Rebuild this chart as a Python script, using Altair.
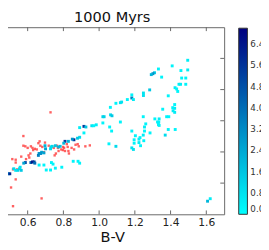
import altair as alt
import pandas as pd

# ---- data ----
# clustered members (B-V, magnitude-like y in tick units, density value)
bv = [1.496, 1.496, 1.409, 1.332, 1.310, 1.301, 1.292, 1.458, 1.485, 1.462,
      1.485, 1.456, 1.447, 1.425, 1.434, 1.440, 1.283, 1.248, 1.248, 1.183,
      1.183, 1.192, 1.387, 1.423, 1.423, 1.423, 1.414, 1.126, 1.119, 1.094,
      1.356, 1.336, 1.327, 1.390, 1.247, 1.021, 1.028, 1.064, 1.072, 1.021,
      1.119, 0.891, 0.915, 0.926, 0.959, 0.984, 1.059, 1.070, 0.915, 1.183,
      1.332, 1.261, 1.254, 1.285, 1.387, 1.370, 1.247, 1.223, 1.223, 1.196,
      1.183, 1.192, 1.055, 1.094, 0.891, 0.879, 0.859, 0.850, 0.828, 0.809,
      0.802, 0.782, 0.773, 0.737, 0.731, 0.755, 0.728, 0.697, 0.700, 0.678,
      0.664, 0.660, 0.691, 0.673, 0.618, 0.627, 0.636, 0.640, 0.587, 0.578,
      0.554, 0.564, 0.545, 0.558, 0.522, 0.533, 0.482, 0.491, 0.463, 0.454,
      0.500, 0.454, 0.463, 0.460, 0.733, 0.742, 0.664, 0.691, 0.704, 0.728,
      0.755, 0.791, 0.855, 0.882, 0.891, 1.607, 1.622, 1.350, 1.158, 1.254,
      1.196, 1.232, 1.378, 1.412, 1.334, 1.336, 1.312, 1.426, 0.970, 1.063,
      1.229, 1.250, 1.203]
yv = [4.94, 4.63, 4.76, 4.66, 4.54, 4.51, 4.48, 4.61, 4.37, 4.37,
      4.17, 4.17, 4.17, 4.06, 4.02, 3.94, 3.99, 3.89, 3.81, 3.83,
      3.73, 3.68, 3.80, 3.52, 3.40, 3.27, 3.32, 3.60, 3.58, 3.56,
      3.37, 3.06, 2.96, 3.13, 3.13, 3.13, 3.13, 3.19, 3.16, 2.93,
      2.96, 2.78, 2.82, 2.80, 2.84, 2.87, 2.80, 2.67, 2.61, 2.67,
      2.88, 2.90, 2.80, 2.61, 2.72, 2.54, 2.54, 2.41, 2.30, 2.39,
      2.13, 2.08, 2.26, 2.18, 2.47, 2.44, 2.39, 2.41, 2.34, 2.34,
      2.28, 2.18, 2.16, 2.18, 2.16, 2.20, 2.10, 2.20, 2.10, 1.99,
      1.95, 1.89, 1.97, 1.95, 1.66, 1.68, 1.68, 1.64, 1.66, 1.64,
      1.46, 1.41, 1.41, 1.51, 1.46, 1.41, 1.35, 1.30, 1.33, 1.30,
      1.30, 1.40, 1.06, 1.20, 1.66, 1.61, 1.58, 1.58, 1.42, 1.42,
      1.48, 1.51, 1.70, 1.70, 1.64, 0.42, 0.50, 4.40, 3.68, 2.67,
      2.28, 2.20, 3.13, 3.42, 2.96, 2.85, 3.06, 2.72, 2.84, 3.43,
      2.46, 2.36, 2.52]
dens = [0.5, 0.5, 0.3, 0.3, 1.5, 3.0, 2.0, 0.3, 0.3, 0.3,
        0.3, 0.5, 0.5, 0.5, 0.3, 0.3, 1.5, 0.8, 0.8, 0.3,
        3.5, 0.5, 0.3, 0.3, 0.5, 0.5, 0.5, 0.8, 0.8, 0.3,
        0.3, 0.5, 0.3, 0.3, 0.3, 1.2, 1.2, 1.0, 1.5, 0.3,
        0.3, 0.5, 5.5, 1.5, 0.8, 0.5, 0.3, 0.3, 0.3, 0.3,
        0.3, 0.3, 0.5, 0.3, 0.3, 1.0, 0.5, 0.5, 0.5, 0.3,
        0.8, 0.8, 0.3, 1.0, 1.0, 1.5, 6.0, 3.0, 2.0, 5.5,
        2.0, 1.5, 2.0, 1.0, 1.0, 1.5, 1.0, 2.0, 2.5, 2.5,
        3.0, 3.5, 2.5, 3.0, 4.5, 6.5, 5.5, 4.0, 5.0, 2.5,
        1.0, 1.5, 1.2, 0.8, 1.0, 0.8, 3.0, 2.5, 2.0, 1.0,
        6.0, 0.5, 0.3, 0.5, 0.3, 0.3, 0.3, 0.3, 0.3, 0.3,
        0.3, 0.3, 0.3, 0.3, 0.3, 2.0, 0.5, 0.3, 0.3, 0.3,
        0.3, 0.3, 0.3, 0.3, 0.3, 0.3, 0.3, 0.3, 0.3, 0.3,
        0.3, 0.3, 0.3]

# field stars (red)
red_bv = [0.728, 0.576, 0.576, 0.587, 0.600, 0.618, 0.627, 0.667, 0.671, 0.682,
          0.631, 0.640, 0.651, 0.615, 0.605, 0.564, 0.591, 0.514, 0.533, 0.533,
          0.518, 0.540, 0.533, 0.507, 0.474, 0.460, 0.452, 0.518, 0.678, 0.718,
          0.737, 0.746, 0.764, 0.769, 0.773, 0.788, 0.797, 0.804, 0.809, 0.819,
          0.824, 0.828, 0.831, 0.846, 0.860, 0.868, 0.886, 0.923, 0.948, 0.751,
          0.758, 0.691, 0.609, 0.482, 0.474, 0.697, 0.660, 0.798, 0.880]
red_y = [3.27, 2.51, 2.20, 2.18, 2.13, 2.18, 2.13, 2.34, 2.20, 2.16,
         2.06, 2.10, 2.08, 1.95, 1.89, 1.85, 1.77, 1.77, 1.75, 1.66,
         1.44, 1.44, 1.12, 0.86, 0.94, 0.40, 0.24, 0.26, 0.51, 2.20,
         2.18, 2.13, 2.20, 2.13, 2.03, 2.08, 2.06, 2.13, 2.03, 2.25,
         2.16, 2.03, 1.95, 2.13, 2.08, 2.23, 2.18, 2.18, 2.21, 1.89,
         1.95, 1.99, 1.82, 1.46, 1.51, 2.30, 2.28, 2.16, 2.25]

x_ticks = [0.6, 0.8, 1.0, 1.2, 1.4, 1.6]
y_ticks = [1, 2, 3, 4, 5]
cbar_ticks = [0.0, 0.8, 1.6, 2.4, 3.2, 4.0, 4.8, 5.6, 6.4]
x_domain = [0.4465, 1.7]
y_domain = [0, 6]

W, H = 231, 193
FONT = "DejaVu Sans"

members = pd.DataFrame({"bv": bv, "y": yv, "c": dens})
field = pd.DataFrame({"bv": red_bv, "y": red_y})
xt = pd.DataFrame({"t": x_ticks})
yt = pd.DataFrame({"t": y_ticks})

xscale = alt.Scale(domain=x_domain, nice=False, zero=False)
yscale = alt.Scale(domain=y_domain, nice=False, zero=False)

xaxis = alt.Axis(values=x_ticks, format=".1f", labelFontSize=11, labelFont=FONT,
                 labelColor="#222", ticks=False, domain=False, grid=False,
                 title="B-V", titleFontSize=15, titleFont=FONT,
                 titleFontWeight="normal", titleColor="#111",
                 labelPadding=3, titlePadding=2)

red = alt.Chart(field).mark_square(size=6, color="#ff3a3a", opacity=0.8).encode(
    x=alt.X("bv:Q", scale=xscale, axis=xaxis),
    y=alt.Y("y:Q", scale=yscale, axis=None),
)

pts = alt.Chart(members).mark_square(size=9, opacity=1).encode(
    x=alt.X("bv:Q", scale=xscale),
    y=alt.Y("y:Q", scale=yscale),
    color=alt.Color("c:Q",
                    scale=alt.Scale(domain=[0, 7], range=["#00ffff", "#000080"],
                                    interpolate="rgb"),
                    legend=alt.Legend(title=None, orient="none", legendX=246,
                                      legendY=1, direction="vertical",
                                      gradientLength=192, gradientThickness=9,
                                      values=cbar_ticks, format=".1f",
                                      labelFontSize=9, labelFont=FONT,
                                      labelColor="#333", labelBaseline="middle",
                                      labelOverlap=False,
                                      gradientStrokeColor="#333",
                                      gradientStrokeWidth=1, labelOffset=3)),
)

tick_col = "#666"
xt_bottom = alt.Chart(xt).mark_rule(color=tick_col).encode(
    x=alt.X("t:Q", scale=xscale), y=alt.value(H), y2=alt.value(H - 4))
xt_top = alt.Chart(xt).mark_rule(color=tick_col).encode(
    x=alt.X("t:Q", scale=xscale), y=alt.value(0), y2=alt.value(4))
yt_left = alt.Chart(yt).mark_rule(color=tick_col).encode(
    y=alt.Y("t:Q", scale=yscale), x=alt.value(0), x2=alt.value(4))
yt_right = alt.Chart(yt).mark_rule(color=tick_col).encode(
    y=alt.Y("t:Q", scale=yscale), x=alt.value(W), x2=alt.value(W - 4))

chart = alt.layer(red, pts, xt_bottom, xt_top, yt_left, yt_right).properties(
    width=W, height=H,
    title=alt.TitleParams("1000 Myrs", fontSize=15, font=FONT,
                          fontWeight="normal", color="#111", offset=2),
    autosize=alt.AutoSizeParams(type="none"),
    padding={"left": -8, "top": 16, "right": 38, "bottom": 33},
).configure_view(stroke="#666", strokeWidth=1)

chart.save("out.html", embed_options={"renderer": "svg", "actions": False})
